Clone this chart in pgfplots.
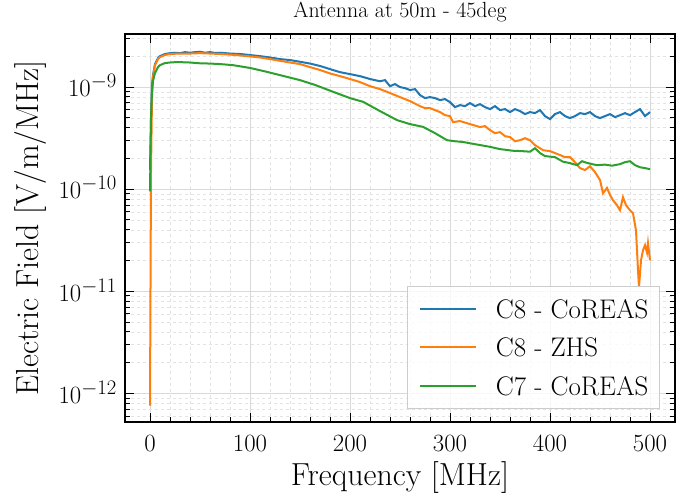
\documentclass[border=0pt]{standalone}
\usepackage{pgfplots}
\pgfplotsset{compat=1.18}
\definecolor{tabblue}{HTML}{1F77B4}
\definecolor{taborange}{HTML}{FF7F0E}
\definecolor{tabgreen}{HTML}{2CA02C}
\begin{document}
\begin{tikzpicture}
\useasboundingbox (0,0) rectangle (683bp,499bp);
\begin{axis}[
  at={(125bp,77bp)}, anchor=south west,
  width=550bp, height=388bp, scale only axis,
  ymode=log, log basis y=10,
  xmin=-25, xmax=525,
  ymin=5.25e-13, ymax=3.31e-9,
  xtick={0,100,200,300,400,500},
  minor x tick num=4,
  ytick={1e-12,1e-11,1e-10,1e-9},
  minor ytick={6e-13,7e-13,8e-13,9e-13,2e-12,3e-12,4e-12,5e-12,6e-12,7e-12,8e-12,9e-12,2e-11,3e-11,4e-11,5e-11,6e-11,7e-11,8e-11,9e-11,2e-10,3e-10,4e-10,5e-10,6e-10,7e-10,8e-10,9e-10,2e-9,3e-9},
  tick align=inside,
  major tick length=9bp, minor tick length=5bp,
  every tick/.style={black, line width=1bp},
  axis line style={black, line width=1.8bp},
  grid=both,
  major grid style={black!15, line width=0.7bp},
  minor grid style={black!11, dashed, line width=0.5bp},
  tick label style={font=\fontsize{28}{34}\selectfont},
  xticklabel style={anchor=base, yshift=-29bp, inner sep=0pt},
  yticklabel style={anchor=base east, yshift=-9.7bp, xshift=-8bp, inner sep=0pt},
  title={Antenna at 50m - 45deg},
  title style={at={(axis description cs:0.5,1.026)}, anchor=base, font=\fontsize{22}{26}\selectfont, inner sep=0pt},
  xlabel={Frequency [MHz]},
  xlabel style={at={(axis description cs:0.5,-0.1624)}, anchor=base, font=\fontsize{32}{38}\selectfont, inner sep=0pt},
  ylabel={Electric Field [V/m/MHz]},
  ylabel style={at={(axis description cs:-0.1564,0.5)}, anchor=base, rotate=0, font=\fontsize{32}{38}\selectfont, inner sep=0pt},
  legend cell align=left,
  legend image code/.code={\draw[#1] (0bp,0bp) -- (56bp,0bp); \path[draw=none] (0bp,0bp) -- (76bp,0bp);},
  legend style={at={(axis description cs:0.9727,0.0335)}, anchor=south east,
    draw=black!20, line width=1bp, fill=white, fill opacity=0.8, text opacity=1,
    font=\fontsize{27}{32}\selectfont,
    inner xsep=11bp, inner ysep=13.5bp, row sep=20bp,
    nodes={inner sep=0pt, text height=18.5bp, text depth=0bp}},
]
\addplot[tabblue, line width=2bp] table {
0 1.54e-10
1 4.75e-10
2 1.05e-9
3 1.31e-9
5 1.68e-9
8 1.92e-9
10 2.01e-9
15 2.11e-9
20 2.15e-9
25 2.17e-9
30 2.15e-9
35 2.20e-9
40 2.17e-9
45 2.20e-9
50 2.22e-9
55 2.17e-9
60 2.20e-9
65 2.16e-9
70 2.17e-9
75 2.15e-9
80 2.13e-9
90 2.11e-9
100 2.06e-9
110 2.01e-9
120 1.95e-9
130 1.88e-9
140 1.84e-9
150 1.77e-9
160 1.70e-9
170 1.61e-9
180 1.50e-9
190 1.40e-9
200 1.34e-9
210 1.28e-9
220 1.20e-9
230 1.14e-9
235 1.17e-9
240 1.02e-9
245 1.07e-9
250 1.00e-9
255 9.78e-10
260 9.35e-10
265 9.56e-10
270 8.35e-10
275 7.80e-10
280 7.98e-10
285 7.80e-10
290 7.46e-10
295 7.63e-10
300 7.13e-10
305 6.37e-10
310 6.66e-10
315 6.51e-10
320 6.97e-10
325 6.51e-10
330 6.81e-10
335 6.37e-10
340 6.09e-10
345 6.51e-10
350 5.95e-10
355 6.09e-10
360 5.69e-10
365 6.09e-10
370 5.82e-10
375 5.44e-10
380 5.69e-10
385 5.56e-10
390 5.95e-10
395 5.20e-10
400 4.86e-10
405 5.44e-10
410 5.69e-10
415 5.20e-10
420 4.97e-10
425 5.20e-10
430 5.56e-10
435 5.44e-10
440 5.69e-10
445 5.20e-10
450 4.97e-10
455 5.20e-10
460 5.44e-10
465 5.08e-10
470 5.31e-10
475 5.56e-10
480 5.31e-10
485 5.69e-10
490 6.09e-10
495 5.20e-10
500 5.69e-10
};
\addlegendentry{C8 - CoREAS}
\addplot[taborange, line width=2bp] table {
0 7.6e-13
1 1.5e-10
2 8.0e-10
3 1.25e-9
5 1.64e-9
8 1.88e-9
10 1.97e-9
15 2.06e-9
20 2.11e-9
30 2.13e-9
40 2.13e-9
50 2.15e-9
60 2.13e-9
70 2.11e-9
80 2.08e-9
90 2.04e-9
100 2.00e-9
110 1.95e-9
120 1.88e-9
130 1.81e-9
140 1.74e-9
150 1.68e-9
160 1.57e-9
170 1.47e-9
180 1.36e-9
190 1.28e-9
200 1.20e-9
210 1.12e-9
220 1.02e-9
230 9.56e-10
240 8.74e-10
250 7.98e-10
260 7.29e-10
270 6.51e-10
275 6.22e-10
280 6.22e-10
285 5.95e-10
290 5.69e-10
295 5.31e-10
300 5.20e-10
303 4.54e-10
310 4.65e-10
320 4.34e-10
330 4.06e-10
335 4.15e-10
340 3.79e-10
345 3.54e-10
350 3.62e-10
355 3.31e-10
360 3.24e-10
365 2.95e-10
370 3.02e-10
375 3.16e-10
380 3.02e-10
385 2.70e-10
390 2.52e-10
393 2.41e-10
400 2.36e-10
405 2.26e-10
410 2.16e-10
415 2.06e-10
420 2.06e-10
425 1.84e-10
430 1.61e-10
435 1.54e-10
440 1.68e-10
445 1.47e-10
450 1.23e-10
453 9.14e-11
457 1.03e-10
460 8.80e-11
463 7.80e-11
467 6.97e-11
470 6.22e-11
473 8.35e-11
476 6.97e-11
480 6.22e-11
483 5.82e-11
486 3.96e-11
488 1.61e-11
489 1.10e-11
491 2.01e-11
493 2.52e-11
495 2.83e-11
497 2.40e-11
498 2.96e-11
500 2.01e-11
};
\addlegendentry{C8 - ZHS}
\addplot[tabgreen, line width=2bp] table {
0 9.5e-11
1 5.0e-10
2 9.0e-10
3 1.15e-9
5 1.37e-9
8 1.57e-9
10 1.64e-9
15 1.72e-9
20 1.74e-9
27 1.76e-9
40 1.74e-9
50 1.71e-9
60 1.70e-9
70 1.68e-9
83 1.64e-9
100 1.54e-9
117 1.41e-9
130 1.31e-9
150 1.17e-9
165 1.05e-9
183 9.00e-10
200 7.80e-10
213 7.18e-10
230 5.82e-10
247 4.75e-10
260 4.34e-10
273 4.08e-10
285 3.54e-10
297 3.02e-10
305 2.95e-10
313 2.90e-10
325 2.76e-10
340 2.60e-10
350 2.47e-10
363 2.38e-10
372 2.36e-10
380 2.33e-10
385 2.52e-10
390 2.26e-10
395 2.11e-10
405 2.06e-10
413 1.86e-10
420 1.80e-10
427 1.72e-10
432 1.88e-10
437 1.81e-10
442 1.76e-10
447 1.72e-10
455 1.74e-10
462 1.70e-10
470 1.76e-10
475 1.84e-10
480 1.88e-10
485 1.72e-10
490 1.64e-10
495 1.61e-10
500 1.57e-10
};
\addlegendentry{C7 - CoREAS}
\end{axis}
\end{tikzpicture}
\end{document}
